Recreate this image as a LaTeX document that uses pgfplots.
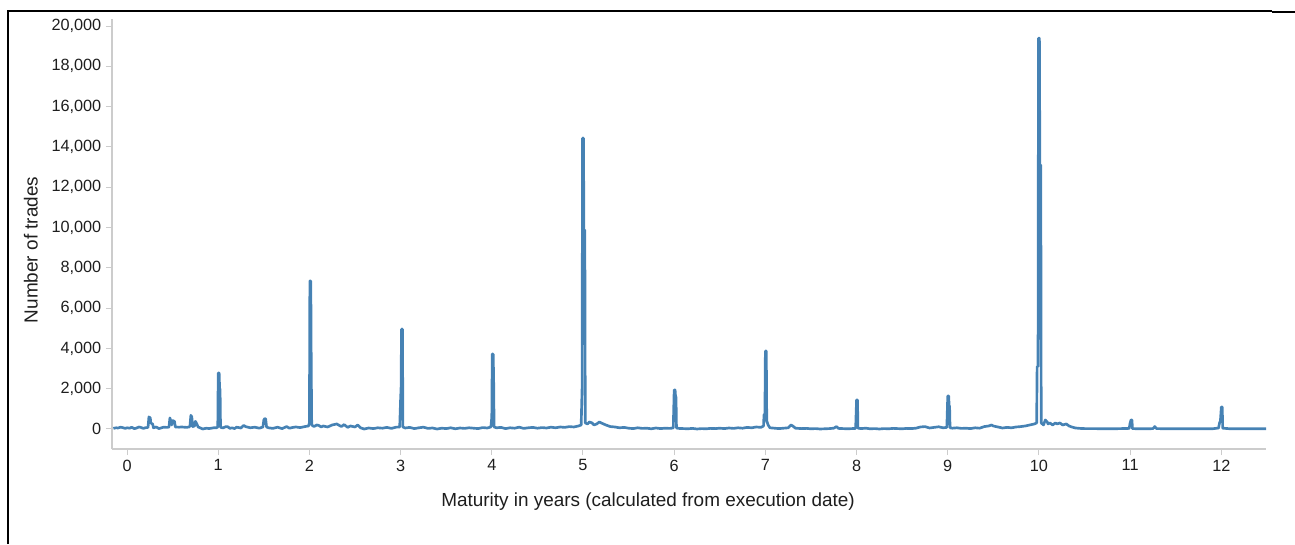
\documentclass[border=0pt]{standalone}
\usepackage{fontspec}
\setmainfont{Liberation Sans}
\usepackage{pgfplots}
\pgfplotsset{compat=1.18}
\definecolor{steel}{RGB}{70,130,180}
\definecolor{axgray}{RGB}{204,204,204}
\definecolor{txt}{RGB}{30,30,30}
\begin{document}
\begin{tikzpicture}
\path[use as bounding box] (0,0) rectangle (971.25pt,408pt);
\draw[line width=1.5pt] (6pt,0) -- (6pt,400.5pt);
\draw[line width=1.1pt] (5.25pt,399.75pt) -- (954pt,399.75pt);
\draw[line width=2.2pt] (954pt,399pt) -- (971.25pt,399pt);
\begin{axis}[
  at={(84pt,71.25pt)}, anchor=south west,
  scale only axis, width=865.5pt, height=322.5pt,
  xmin=-0.165, xmax=12.49, ymin=-993, ymax=20350,
  axis x line*=bottom, axis y line*=left,
  axis line style={axgray, line width=0.9pt, -},
  tick style={axgray, line width=0.75pt},
  tick align=outside, major tick length=4.5pt,
  xtick={0,1,...,12}, ytick={0,2000,...,20000},
  scaled y ticks=false,
  yticklabel style={/pgf/number format/.cd, 1000 sep={,}, assume math mode=true},
  xticklabel style={/pgf/number format/assume math mode=true},
  ticklabel style={font=\fontsize{12.2}{14}\selectfont, text=txt},
  xlabel={Maturity in years (calculated from execution date)},
  ylabel={Number of trades},
  label style={font=\fontsize{14.2}{16}\selectfont, text=txt},
  xlabel style={at={(axis description cs:0.4645,-0.1233)}, anchor=center},
  ylabel style={at={(axis description cs:-0.0702,0.463)}, anchor=center},
  clip=false,
]
\addplot[steel, line width=2pt, line join=round, mark=none] table {
x y
-0.15 30
-0.12 60
-0.1 50
-0.07 90
-0.05 70
-0.02 30
0 60
0.03 40
0.05 90
0.08 20
0.1 40
0.13 100
0.15 80
0.18 30
0.2 60
0.23 80
0.24 600
0.255 550
0.26 300
0.28 250
0.29 60
0.32 100
0.35 20
0.4 90
0.44 80
0.46 100
0.47 550
0.48 400
0.49 200
0.5 420
0.52 380
0.53 100
0.57 90
0.6 100
0.65 80
0.68 100
0.69 150
0.7 680
0.71 600
0.72 120
0.74 150
0.75 380
0.76 300
0.78 100
0.8 60
0.83 0
0.87 40
0.9 20
0.95 60
0.98 60
0.995 100
1.0 2780
1.01 2780
1.015 2000
1.02 2000
1.025 90
1.05 50
1.08 110
1.1 120
1.13 30
1.15 60
1.18 20
1.2 90
1.25 50
1.28 180
1.3 120
1.35 60
1.4 90
1.45 40
1.49 100
1.5 450
1.51 520
1.52 500
1.53 100
1.55 60
1.6 30
1.65 90
1.7 20
1.75 120
1.78 40
1.82 80
1.85 100
1.9 70
1.95 120
1.99 150
2.0 300
2.005 7350
2.015 7350
2.02 3000
2.025 200
2.05 120
2.08 200
2.1 180
2.13 100
2.15 150
2.2 100
2.25 200
2.3 250
2.35 120
2.38 220
2.42 80
2.45 150
2.5 100
2.53 200
2.56 60
2.6 0
2.65 50
2.7 20
2.75 60
2.8 40
2.85 80
2.9 30
2.95 90
2.99 100
3.0 1500
3.005 2000
3.01 4960
3.02 4960
3.025 100
3.05 50
3.1 80
3.15 20
3.2 60
3.25 90
3.3 30
3.35 50
3.4 0
3.45 40
3.5 20
3.55 60
3.6 10
3.65 50
3.7 30
3.75 60
3.8 40
3.85 20
3.9 70
3.95 50
3.99 100
4.0 600
4.005 3720
4.015 3720
4.02 2500
4.025 100
4.05 60
4.1 80
4.15 20
4.2 60
4.25 40
4.3 90
4.35 30
4.4 60
4.45 80
4.5 40
4.55 70
4.6 50
4.65 90
4.7 60
4.75 100
4.8 80
4.85 120
4.9 100
4.95 150
4.98 200
4.99 2000
4.995 14440
5.005 14440
5.01 9880
5.02 9880
5.025 300
5.05 250
5.07 350
5.1 300
5.12 200
5.15 250
5.18 350
5.2 300
5.25 200
5.3 120
5.35 100
5.4 60
5.45 80
5.5 40
5.55 20
5.6 60
5.65 30
5.7 40
5.75 10
5.8 50
5.85 20
5.9 40
5.95 30
5.99 50
6.0 1940
6.01 1940
6.015 1600
6.02 1600
6.025 50
6.05 30
6.1 20
6.15 10
6.2 30
6.25 0
6.3 20
6.35 10
6.4 30
6.45 20
6.5 40
6.55 20
6.6 50
6.65 30
6.7 60
6.75 40
6.8 80
6.85 60
6.9 100
6.95 80
6.98 150
6.985 700
6.995 750
7.0 3870
7.01 3870
7.015 400
7.03 200
7.05 60
7.1 40
7.15 20
7.2 40
7.25 60
7.28 200
7.3 150
7.33 40
7.4 20
7.45 30
7.5 10
7.55 20
7.6 0
7.65 10
7.7 20
7.75 40
7.78 120
7.8 30
7.85 20
7.9 10
7.95 20
7.99 30
8.0 1440
8.01 1440
8.015 40
8.05 20
8.1 40
8.15 10
8.2 20
8.25 0
8.3 20
8.35 10
8.4 30
8.45 20
8.5 10
8.55 30
8.6 20
8.65 40
8.7 100
8.75 120
8.8 50
8.85 80
8.9 110
8.95 60
8.99 80
9.0 1640
9.01 1640
9.015 1150
9.02 1150
9.025 60
9.05 40
9.1 60
9.15 30
9.2 40
9.25 20
9.3 60
9.35 40
9.4 120
9.45 150
9.48 200
9.5 150
9.55 100
9.6 50
9.65 80
9.7 60
9.75 100
9.8 120
9.85 150
9.9 200
9.95 250
9.975 300
9.98 3100
9.99 3100
9.995 19400
10.005 19400
10.01 13100
10.02 13100
10.025 300
10.05 200
10.07 450
10.09 350
10.1 250
10.12 300
10.15 200
10.18 300
10.2 250
10.23 300
10.26 200
10.3 250
10.33 150
10.36 100
10.4 50
10.45 30
10.5 20
10.6 20
10.7 10
10.8 10
10.9 20
10.99 30
11.0 300
11.01 450
11.02 450
11.025 20
11.1 10
11.2 10
11.25 20
11.27 120
11.29 20
11.4 10
11.5 10
11.6 10
11.7 10
11.8 10
11.9 10
11.97 50
11.98 300
11.99 400
12.0 1090
12.01 1090
12.015 40
12.1 10
12.2 10
12.3 10
12.4 10
12.49 10
};
\end{axis}
\end{tikzpicture}
\end{document}
